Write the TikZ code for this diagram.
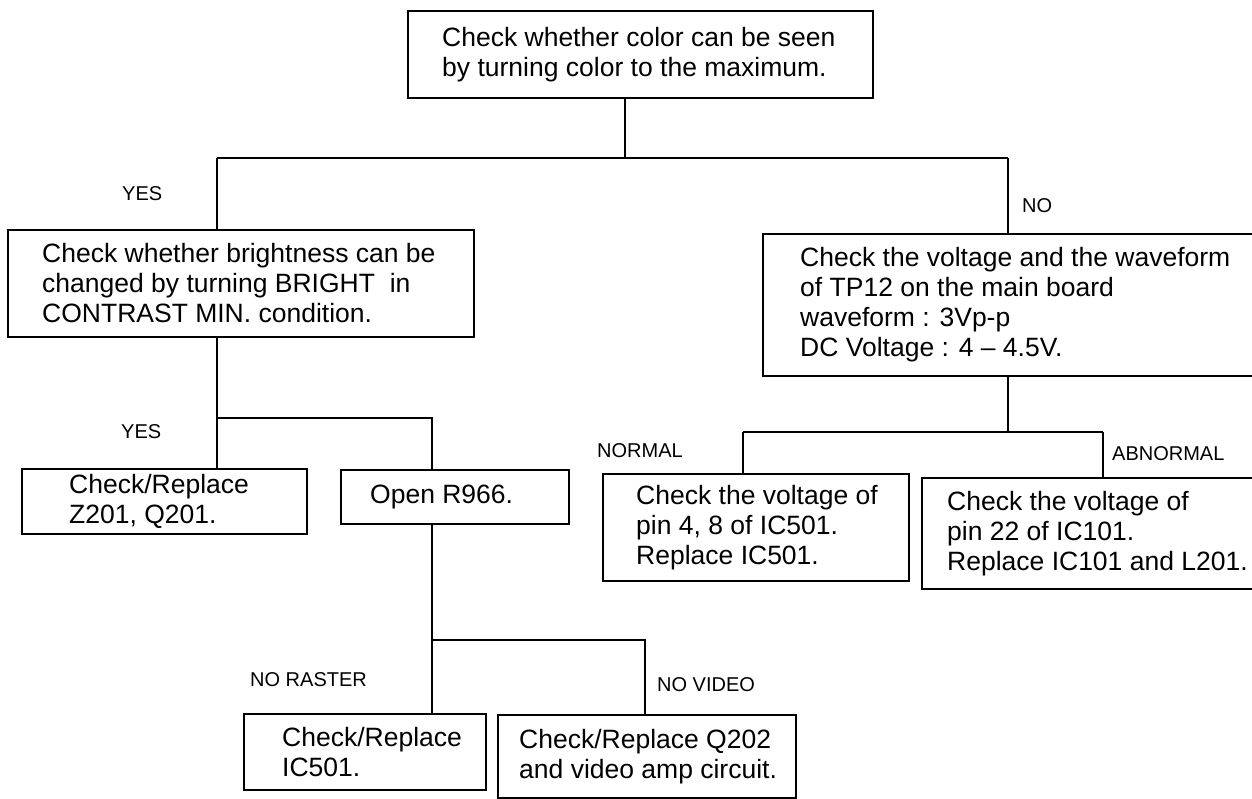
\documentclass[tikz,border=0pt]{standalone}
\usepackage{fontspec}
\setmainfont{Liberation Sans}
\begin{document}
\begin{tikzpicture}[x=1pt,y=-1pt,
  boxst/.style={draw, line width=1.5pt, inner sep=0pt, anchor=north west},
  txt/.style={inner sep=0pt, anchor=west, align=left, font=\fontsize{26.5}{30}\selectfont},
  lbl/.style={inner sep=0pt, anchor=base west, font=\fontsize{20}{22}\selectfont},
  con/.style={line width=1.5pt}]
\useasboundingbox (0,0) rectangle (1252,798);
\clip (0,0) rectangle (1252,798);
\fill[white] (0,0) rectangle (1252,798);

% boxes
\node[boxst, minimum width=465pt, minimum height=87pt]  (b0) at (407,10) {};
\node[boxst, minimum width=466pt, minimum height=107pt] (b1) at (7,229) {};
\node[boxst, minimum width=520pt, minimum height=142pt] (b2) at (762,233) {};
\node[boxst, minimum width=285pt, minimum height=65pt]  (b3) at (21,468) {};
\node[boxst, minimum width=228pt, minimum height=54pt]  (b4) at (340,469) {};
\node[boxst, minimum width=306pt, minimum height=107pt] (b5) at (602,473) {};
\node[boxst, minimum width=360pt, minimum height=111pt] (b6) at (921,477) {};
\node[boxst, minimum width=242pt, minimum height=76pt]  (b7) at (243,713) {};
\node[boxst, minimum width=298pt, minimum height=83pt]  (b8) at (497,714) {};

% texts
\node[txt] (t0) at ([xshift=35pt]b0.west) {Check whether color can be seen\\by turning color to the maximum.};
\node[txt] (t1) at ([xshift=35pt]b1.west) {Check whether brightness can be\\changed by turning BRIGHT\ \ in\\CONTRAST MIN. condition.};
\node[txt] (t2) at ([xshift=38pt]b2.west) {Check the voltage and the waveform\\of TP12 on the main board\\waveform : 3Vp-p\\DC Voltage : 4 -- 4.5V.};
\node[txt] (t3) at ([xshift=48pt]b3.west) {Check/Replace\\Z201, Q201.};
\node[txt] (t4) at ([xshift=30pt]b4.west) {Open R966.};
\node[txt] (t5) at ([xshift=34pt]b5.west) {Check the voltage of\\pin 4, 8 of IC501.\\Replace IC501.};
\node[txt] (t6) at ([xshift=26pt]b6.west) {Check the voltage of\\pin 22 of IC101.\\Replace IC101 and L201.};
\node[txt] (t7) at ([xshift=39pt]b7.west) {Check/Replace\\IC501.};
\node[txt] (t8) at ([xshift=22pt]b8.west) {Check/Replace Q202\\and video amp circuit.};

% labels
\node[lbl] (l1) at (122,200)  {YES};
\node[lbl] (l2) at (1022,212) {NO};
\node[lbl] (l3) at (121,438)  {YES};
\node[lbl] (l4) at (597,457)  {NORMAL};
\node[lbl] (l5) at (1112,460) {ABNORMAL};
\node[lbl] (l6) at (250,686)  {NO RASTER};
\node[lbl] (l7) at (657,691)  {NO VIDEO};

% junctions
\coordinate (j0)  at (625,158);
\coordinate (jl)  at (217,158);
\coordinate (jr)  at (1008,158);
\coordinate (j1)  at (217,418);
\coordinate (j1r) at (432,418);
\coordinate (j2)  at (432,640);
\coordinate (j2r) at (645,640);
\coordinate (j3)  at (1008,432);
\coordinate (j3l) at (743,432);
\coordinate (j3r) at (1103,432);

% connectors
\draw[con] (b0.south -| j0) -- (j0);
\draw[con] (jl) -- (jr);
\draw[con] (jl) -- (jl |- b1.north);
\draw[con] (jr) -- (jr |- b2.north);

\draw[con] (b1.south -| j1) -- (j1) -- (j1 |- b3.north);
\draw[con] (j1) -- (j1r) -- (j1r |- b4.north);

\draw[con] (b4.south -| j2) -- (j2) -- (j2 |- b7.north);
\draw[con] (j2) -- (j2r) -- (j2r |- b8.north);

\draw[con] (b2.south -| j3) -- (j3);
\draw[con] (j3l) -- (j3r);
\draw[con] (j3l) -- (j3l |- b5.north);
\draw[con] (j3r) -- (j3r |- b6.north);
\end{tikzpicture}
\end{document}
